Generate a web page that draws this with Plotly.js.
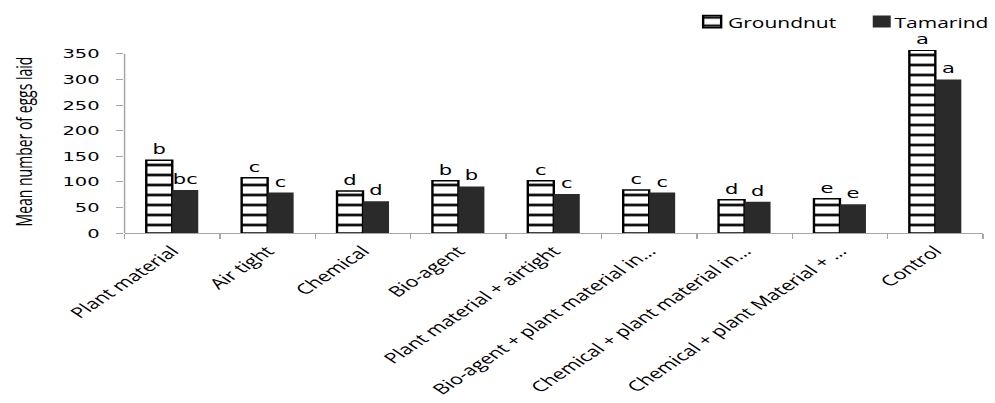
<!DOCTYPE html>
<html>
<head>
<meta charset="utf-8">
<script src="https://cdn.plot.ly/plotly-3.0.1.min.js"></script>
<style>
  html, body { margin: 0; padding: 0; background: #fff; overflow: hidden; }
  #wrap { width: 995px; height: 403px; overflow: hidden; }
  #plot { width: 663px; height: 403px; transform: scaleX(1.5008); transform-origin: 0 0; }
</style>
</head>
<body>
<div id="wrap"><div id="plot"></div></div>
<script>
const categories = ['Plant material', 'Air tight', 'Chemical', 'Bio-agent', 'Plant material + airtight',
  'Bio-agent + plant material in…', 'Chemical + plant material in…', 'Chemical + plant Material + …', 'Control'];
const seriesNames = ['Groundnut', 'Tamarind'];
const groundnut = [142, 108, 82, 102, 102, 84, 65, 67, 357];
const tamarind = [84, 79, 62, 91, 76, 79, 61, 56, 300];
const groundnutLetters = ['b', 'c', 'd', 'b', 'c', 'c', 'd', 'e', 'a'];
const tamarindLetters = ['bc', 'c', 'd', 'b', 'c', 'c', 'd', 'e', 'a'];
const yTicks = [0, 50, 100, 150, 200, 250, 300, 350];

const letterFont = {family: 'DejaVu Sans', size: 14, color: '#000'};
const axisGray = '#a6a6a6';

const traces = [
  {
    type: 'bar', name: '', legendgroup: seriesNames[0], x: categories, y: groundnut,
    text: groundnutLetters, textposition: 'outside', textfont: letterFont,
    constraintext: 'none', cliponaxis: false, hoverinfo: 'skip',
    marker: {
      color: '#ffffff',
      line: {color: '#000000', width: 1.6},
      pattern: {shape: '-', fgcolor: '#111111', bgcolor: '#ffffff', size: 10, solidity: 0.28}
    }
  },
  {
    type: 'bar', name: '', legendgroup: seriesNames[1], x: categories, y: tamarind,
    text: tamarindLetters, textposition: 'outside', textfont: letterFont,
    constraintext: 'none', cliponaxis: false, hoverinfo: 'skip',
    marker: {color: '#2a2a2a', line: {width: 0}}
  }
];

const legendFont = {family: 'Open Sans', size: 14, color: '#000'};

const layout = {
  width: 663, height: 403,
  margin: {l: 83, r: 8, t: 50, b: 170, autoexpand: false},
  paper_bgcolor: '#ffffff', plot_bgcolor: '#ffffff',
  barmode: 'group', bargap: 0.455, bargroupgap: 0,
  showlegend: true,
  legend: {
    orientation: 'h', x: 0.6495, xanchor: 'left', y: 1.153, yanchor: 'middle',
    font: legendFont, traceorder: 'normal', itemwidth: 30,
    entrywidth: 68, entrywidthmode: 'pixels', bgcolor: 'rgba(0,0,0,0)'
  },
  annotations: [
    {text: seriesNames[0], xref: 'paper', yref: 'paper', x: 0.699, y: 1.153,
     xanchor: 'left', yanchor: 'middle', showarrow: false, font: legendFont},
    {text: seriesNames[1], xref: 'paper', yref: 'paper', x: 1.0105, y: 1.153,
     xanchor: 'right', yanchor: 'middle', showarrow: false, font: legendFont}
  ],
  shapes: [
    {type: 'line', xref: 'paper', x0: 0, x1: 0, yref: 'y', y0: yTicks[0], y1: yTicks[yTicks.length - 1],
     line: {color: axisGray, width: 1}}
  ],
  xaxis: {
    type: 'category', showgrid: false, zeroline: false,
    showline: true, linecolor: axisGray, linewidth: 1,
    ticks: 'outside', tickson: 'boundaries', ticklen: 5, tickcolor: axisGray,
    tickangle: -45, ticklabelstandoff: 3,
    tickfont: {family: 'Open Sans', size: 14.5, color: '#000'}
  },
  yaxis: {
    range: [0, 357.5], tickvals: yTicks, ticktext: yTicks.map(String),
    showgrid: false, zeroline: false, showline: false,
    ticks: 'outside', ticklen: 5, tickcolor: axisGray,
    ticklabelstandoff: 8,
    tickfont: {family: 'DejaVu Sans', size: 13, color: '#000'},
    title: {text: 'Mean number of eggs laid', standoff: 16,
      font: {family: 'Open Sans', size: 14, color: '#000'}}
  }
};

Plotly.newPlot('plot', traces, layout, {displayModeBar: false, staticPlot: true});
</script>
</body>
</html>
